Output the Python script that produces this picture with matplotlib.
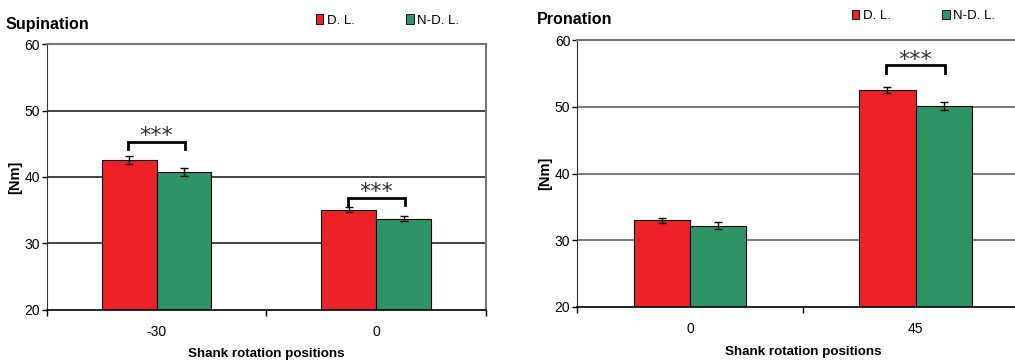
import matplotlib
matplotlib.use("Agg")
import matplotlib.pyplot as plt
from matplotlib.patches import Patch
import numpy as np

plt.rcParams['font.family'] = ['Liberation Sans', 'DejaVu Sans']

# ---- data ----
sup_positions = ["-30", "0"]
sup_dl = [42.6, 35.1]
sup_dl_err = [0.6, 0.4]
sup_ndl = [40.7, 33.7]
sup_ndl_err = [0.6, 0.4]

pro_positions = ["0", "45"]
pro_dl = [33.0, 52.5]
pro_dl_err = [0.35, 0.45]
pro_ndl = [32.2, 50.2]
pro_ndl_err = [0.5, 0.6]

# significance brackets: (category index, bracket top value, leg bottom value, star centre value)
sup_sig = [(0, 45.2, 44.2, 46.6), (1, 36.85, 35.85, 38.2)]
pro_sig = [(1, 56.3, 55.1, 57.5)]

series_labels = ["D. L.", "N-D. L."]
red = "#EE2226"
green = "#2E9465"

fig = plt.figure(figsize=(10.15, 3.63), dpi=100)


def draw(ax, cats, dl, dle, ndl, ndle, sig, grid_color, title, title_xy, legend_xy):
    x = np.arange(len(cats))
    w = 0.25
    ax.set_ylim(20, 60)
    ax.set_xlim(-0.5, len(cats) - 0.5)
    ax.set_yticks([20, 30, 40, 50, 60])
    for g in [30, 40, 50]:
        ax.axhline(g, color=grid_color, lw=1.1, zorder=1)
    ax.bar(x - w / 2, dl, w, color=red, edgecolor='black', linewidth=0.8, zorder=2)
    ax.bar(x + w / 2, ndl, w, color=green, edgecolor='black', linewidth=0.8, zorder=2)
    ax.errorbar(x - w / 2, dl, yerr=dle, fmt='none', ecolor='black', elinewidth=1,
                capsize=3, capthick=1, zorder=3)
    ax.errorbar(x + w / 2, ndl, yerr=ndle, fmt='none', ecolor='black', elinewidth=1,
                capsize=3, capthick=1, zorder=3)
    for ci, top, bot, star in sig:
        xl, xr = ci - 0.13, ci + 0.13
        ax.plot([xl, xl, xr, xr], [bot, top, top, bot], color='black', lw=2.0,
                solid_joinstyle='miter', zorder=4)
        ax.text(ci, star - 1.4, "***", ha='center', va='baseline', fontsize=16,
                family='DejaVu Sans', color='#333333', zorder=4)
    # x ticks: major at boundaries (no label), minor at centers (labels)
    ax.set_xticks(np.arange(-0.5, len(cats), 1.0))
    ax.set_xticklabels([])
    ax.set_xticks(x, minor=True)
    ax.set_xticklabels(cats, minor=True, fontsize=10)
    ax.tick_params(axis='x', which='major', direction='out', length=4, width=1)
    ax.tick_params(axis='x', which='minor', length=0, pad=11)
    ax.tick_params(axis='y', direction='out', length=3.5, width=1, labelsize=10, pad=1.5)
    for s in ['top', 'right']:
        ax.spines[s].set_color('#777777')
        ax.spines[s].set_linewidth(1.5)
    ax.spines['left'].set_color('#333333')
    ax.spines['bottom'].set_color('black')
    ax.spines['bottom'].set_linewidth(1.2)
    ax.set_xlabel("Shank rotation positions", fontsize=9.6, fontweight='bold', va='center')
    ax.xaxis.set_label_coords(0.5, -0.167)
    ax.set_ylabel("[Nm]", fontsize=10.5, fontweight='bold', va='center')
    ax.yaxis.set_label_coords(-0.072, 0.5)
    fig.text(title_xy[0], title_xy[1], title, fontsize=11.6, fontweight='bold',
             va='center', ha='left')
    handles = [Patch(facecolor=red, edgecolor='black', lw=0.6),
               Patch(facecolor=green, edgecolor='black', lw=0.6)]
    ax.legend(handles, series_labels, ncol=2, loc='center left',
              bbox_to_anchor=legend_xy, bbox_transform=fig.transFigure,
              frameon=False, fontsize=9.5, handlelength=0.55, handleheight=0.7,
              handletextpad=0.3, columnspacing=3.9, borderpad=0, borderaxespad=0)


ax1 = fig.add_axes([46.7 / 1015, 1 - 309.7 / 363, 439.3 / 1015, 265.4 / 363])
draw(ax1, sup_positions, sup_dl, sup_dl_err, sup_ndl, sup_ndl_err, sup_sig,
     '#111111', "Supination", (6 / 1015, 1 - 25 / 363), (315.7 / 1015, 1 - 20.5 / 363))

ax2 = fig.add_axes([577.3 / 1015, 1 - 307 / 363, 451 / 1015, 266.7 / 363])
draw(ax2, pro_positions, pro_dl, pro_dl_err, pro_ndl, pro_ndl_err, pro_sig,
     '#555555', "Pronation", (536.7 / 1015, 1 - 19.5 / 363), (851.7 / 1015, 1 - 15.7 / 363))

fig.savefig("out.png", dpi=100)
